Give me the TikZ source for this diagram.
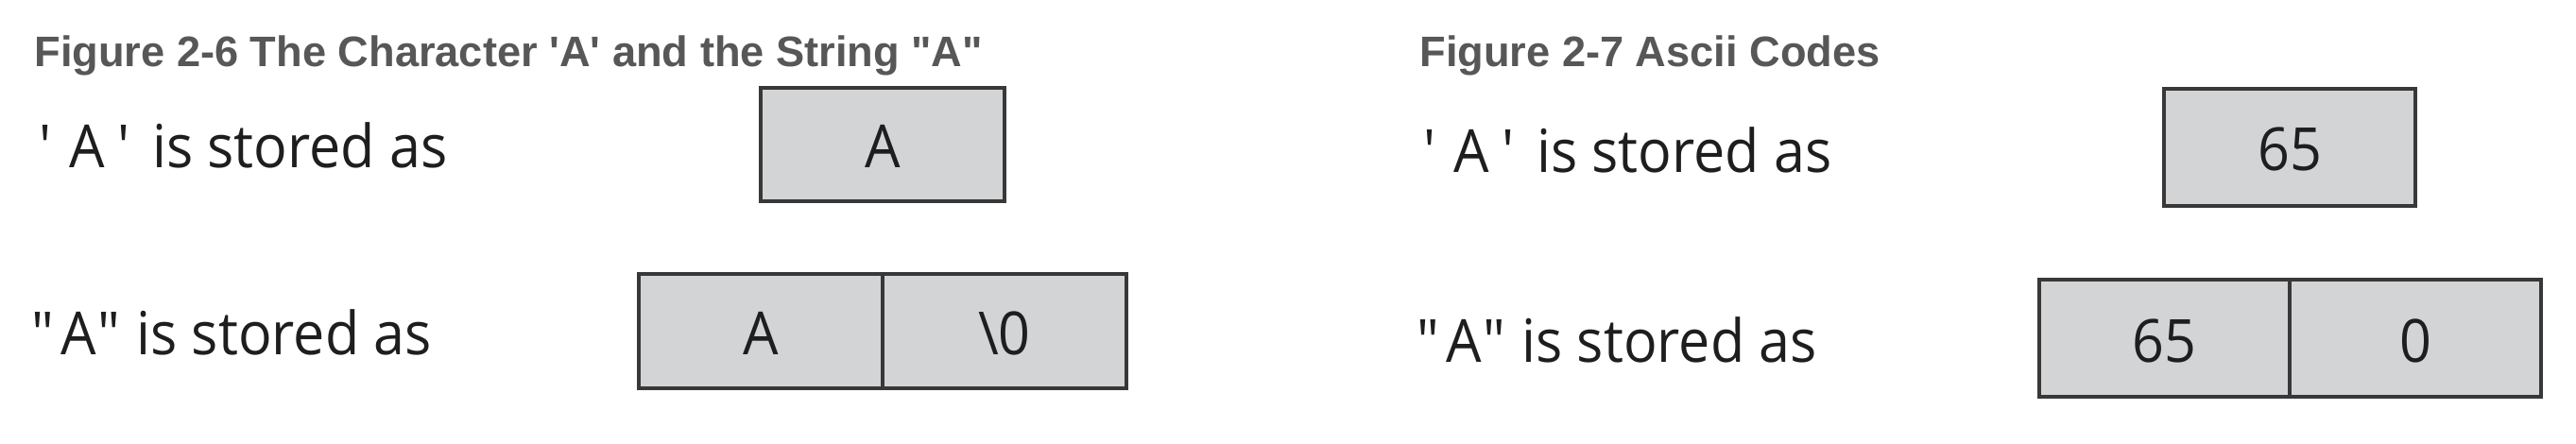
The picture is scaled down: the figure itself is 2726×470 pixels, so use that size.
\documentclass[tikz,border=0pt]{standalone}
\usepackage{fontspec}
\setmainfont{Open Sans}
\newfontfamily\titlefont{Liberation Sans}
\newfontfamily\bodyfam[FakeStretch=0.94]{Open Sans}
\definecolor{titlegray}{HTML}{575757}
\definecolor{bodyink}{HTML}{1E1E1E}
\definecolor{boxfill}{HTML}{D3D4D6}
\definecolor{boxline}{HTML}{383838}
\newcommand{\qsA}{\textquotesingle\kern9pt A\kern7pt\textquotesingle\kern3.5pt\relax}
\newcommand{\qdA}{\textquotedbl\kern3pt A\kern1pt\textquotedbl\relax}
\begin{document}
\begin{tikzpicture}[x=0.5pt,y=-0.5pt,
  title/.style={anchor=base west,inner sep=0,text=titlegray,font=\titlefont\bfseries\fontsize{22.6}{26}\selectfont},
  label/.style={anchor=base west,inner sep=0,text=bodyink,font=\bodyfam\fontsize{31.5}{36}\selectfont},
  cell/.style={draw=boxline,fill=boxfill,line width=1.75pt,inner sep=0,text=bodyink,
    font=\bodyfam\fontsize{31.5}{36}\selectfont,text height=25pt,text depth=0pt}]
\useasboundingbox (0,0) rectangle (2726,470);
% left figure
\node[title] (t1) at (36,71) {Figure 2-6 The Character \textquotesingle A\textquotesingle{} and the String \textquotedbl A\textquotedbl};
\node[label] (l1) at (41,178) {{\qsA} is stored as};
\node[cell,minimum width=129pt,minimum height=60pt] (b1) at (934,153) {A};
\node[label] (l2) at (32.6,375) {{\qdA} is stored as};
\node[cell,minimum width=129pt,minimum height=60.5pt] (b2a) at (805,350.5) {A};
\node[cell,minimum width=129pt,minimum height=60.5pt] (b2b) at (1063,350.5) {\textbackslash 0};
% right figure
\node[title] (t2) at (1502,71) {Figure 2-7 Ascii Codes};
\node[label] (r1) at (1506,183) {{\qsA} is stored as};
\node[cell,minimum width=133pt,minimum height=62pt] (b3) at (2423,156) {65};
\node[label] (r2) at (1498.6,383) {{\qdA} is stored as};
\node[cell,minimum width=132.5pt,minimum height=62pt] (b4a) at (2290.5,358) {65};
\node[cell,minimum width=133pt,minimum height=62pt] (b4b) at (2556,358) {0};
\end{tikzpicture}
\end{document}
